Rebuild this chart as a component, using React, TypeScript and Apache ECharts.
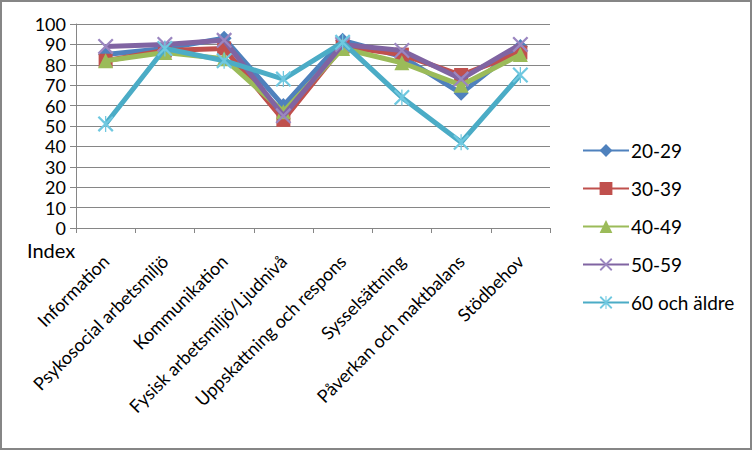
import React, { useEffect, useRef } from "react";
import * as echarts from "echarts";

const categories = [
  "Information",
  "Psykosocial arbetsmiljö",
  "Kommunikation",
  "Fysisk arbetsmiljö/Ljudnivå",
  "Uppskattning och respons",
  "Sysselsättning",
  "Påverkan och maktbalans",
  "Stödbehov",
];
const yTicks = [0, 10, 20, 30, 40, 50, 60, 70, 80, 90, 100];
const seriesNames = ["20-29", "30-39", "40-49", "50-59", "60 och äldre"];
const s2029 = [85, 88, 93, 60, 92, 84, 66, 89];
const s3039 = [82, 87, 88, 53, 89, 85, 75, 86];
const s4049 = [82, 86, 83, 57, 88, 81, 70, 85];
const s5059 = [89, 90, 92, 55, 90, 87, 73, 90];
const s60 = [51, 88, 82, 73, 91, 64, 42, 75];

const seriesData = [s2029, s3039, s4049, s5059, s60];
const colors = ["#4F81BD", "#C0504D", "#9BBB59", "#8064A2", "#4BACC6"];
const markerColors = ["#4F81BD", "#C0504D", "#9BBB59", "#9B86C0", "#6FC8E0"];
const xPath = "path://M0,1 L1,0 L10,9 L9,10 Z M9,0 L10,1 L1,10 L0,9 Z";
const starPath =
  "path://M0,1 L1,0 L10,9 L9,10 Z M9,0 L10,1 L1,10 L0,9 Z M4.6,0 L5.4,0 L5.4,10 L4.6,10 Z";
const symbols = ["diamond", "rect", "triangle", xPath, starPath];
const symbolSizes = [15, 14, 15, 16, 16];

const FONT = "Lato, 'Noto Sans', sans-serif";

export default function App() {
  const ref = useRef<HTMLDivElement>(null);
  useEffect(() => {
    document.body.style.margin = "0";
    const chart = echarts.init(ref.current!, null, { renderer: "svg" });
    chart.setOption({
      animation: false,
      backgroundColor: "#ffffff",
      textStyle: { fontFamily: FONT },
      grid: { left: 76, right: 203, top: 24, bottom: 223, containLabel: false },
      legend: {
        orient: "vertical",
        left: 577,
        top: 136,
        itemWidth: 46,
        itemHeight: 16,
        itemGap: 19,
        textStyle: { fontFamily: FONT, fontSize: 19, color: "#000", padding: [0, 0, 0, -3] },
        data: seriesNames,
      },
      xAxis: {
        type: "category",
        data: categories,
        boundaryGap: true,
        axisLine: { lineStyle: { color: "#868686", width: 1 } },
        axisTick: { show: true, length: 5, lineStyle: { color: "#868686" } },
        axisLabel: {
          rotate: 45,
          interval: 0,
          margin: 30,
          fontFamily: FONT,
          fontSize: 18,
          color: "#000",
        },
        splitLine: { show: false },
      },
      yAxis: {
        type: "value",
        min: yTicks[0],
        max: yTicks[yTicks.length - 1],
        interval: 10,
        axisLine: { show: true, lineStyle: { color: "#868686", width: 1 } },
        axisTick: { show: true, length: 6, lineStyle: { color: "#868686" } },
        axisLabel: { fontFamily: FONT, fontSize: 18, color: "#000", margin: 10 },
        splitLine: { show: true, lineStyle: { color: "#868686", width: 1 } },
      },
      series: seriesNames.map((name, i) => ({
        name,
        type: "line",
        data: seriesData[i],
        symbol: symbols[i],
        symbolSize: symbolSizes[i],
        showAllSymbol: true,
        lineStyle: { color: colors[i], width: 5 },
        itemStyle: { color: markerColors[i], borderWidth: 0 },
        z: 2 + i,
      })),
      graphic: [
        {
          type: "text",
          left: 27,
          top: 240,
          style: { text: "Index", font: `20px ${FONT}`, fill: "#000" },
        },
        {
          type: "rect",
          shape: { x: 1, y: 1, width: 750, height: 448 },
          style: { fill: "none", stroke: "#868686", lineWidth: 2 },
          silent: true,
        },
      ],
    });
    return () => chart.dispose();
  }, []);
  return <div ref={ref} style={{ width: 753, height: 451 }} />;
}
